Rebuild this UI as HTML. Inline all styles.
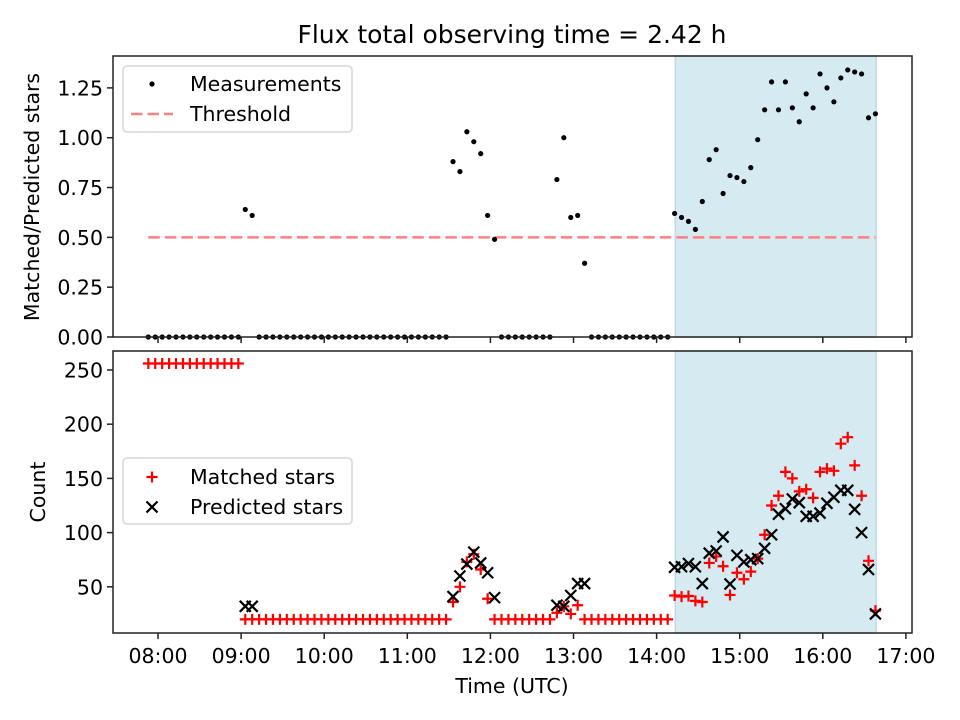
<!DOCTYPE html>
<html><head><meta charset="utf-8"><style>
html,body{margin:0;padding:0;background:#fff;}
svg{display:block;font-family:"DejaVu Sans","Liberation Sans",sans-serif;}
</style></head><body>
<svg id="chart" width="960" height="720" viewBox="0 0 960 720"></svg>
<script>
// times: minutes after midnight (UTC), one sample every ~5 minutes
const times = [473,478,483,488,493,498,503,508,513,518,523,528,533,538,543,548,553,558,563,568,573,578,583,588,593,598,603,608,613,618,623,628,633,638,643,648,653,658,663,668,673,678,683,688,693,698,703,708,713,718,723,728,733,738,743,748,753,758,763,768,773,778,783,788,793,798,803,808,813,818,823,828,833,838,843,848,853,858,863,868,873,878,883,888,893,898,903,908,913,918,923,928,933,938,943,948,953,958,963,968,973,978,983,988,993,998];
const ratio = [0,0,0,0,0,0,0,0,0,0,0,0,0,0,0.64,0.61,0,0,0,0,0,0,0,0,0,0,0,0,0,0,0,0,0,0,0,0,0,0,0,0,0,0,0,0,0.88,0.83,1.03,0.98,0.92,0.61,0.49,0,0,0,0,0,0,0,0,0.79,1.00,0.60,0.61,0.37,0,0,0,0,0,0,0,0,0,0,0,0,0.62,0.60,0.58,0.54,0.68,0.89,0.94,0.72,0.81,0.80,0.78,0.85,0.99,1.14,1.28,1.14,1.28,1.15,1.08,1.22,1.15,1.32,1.25,1.18,1.30,1.34,1.33,1.32,1.10,1.12];
const matched = [256,256,256,256,256,256,256,256,256,256,256,256,256,256,20,20,20,20,20,20,20,20,20,20,20,20,20,20,20,20,20,20,20,20,20,20,20,20,20,20,20,20,20,20,36,50,73,80,66,39,20,20,20,20,20,20,20,20,20,26,32,25,33,20,20,20,20,20,20,20,20,20,20,20,20,20,42,41,41.5,37,36,72,78,69,42.5,63,57,64,76,98,125,134,156,150,138,140,132,156,159,157,182,188,162,134,74,28];
const predicted = [null,null,null,null,null,null,null,null,null,null,null,null,null,null,32,32,null,null,null,null,null,null,null,null,null,null,null,null,null,null,null,null,null,null,null,null,null,null,null,null,null,null,null,null,41,60,71,82,72,63,40,null,null,null,null,null,null,null,null,33,32,42,53,53,null,null,null,null,null,null,null,null,null,null,null,null,68,68.5,71.5,68.5,53,81,83,96,52.6,79,73,75,76,85.5,98,117,122,131,127.6,115,115,118,127,132.6,139,139,121.5,100,66,25];
const threshold = [0.5];
const ratioTicks = [0, 0.25, 0.5, 0.75, 1.0, 1.25];
const ratioTickLabels = ["0.00","0.25","0.50","0.75","1.00","1.25"];
const countTicks = [50, 100, 150, 200, 250];
const timeTicks = [480,540,600,660,720,780,840,900,960,1020];
const timeTickLabels = ["08:00","09:00","10:00","11:00","12:00","13:00","14:00","15:00","16:00","17:00"];
const shadeStart = [853.5];
const shadeEnd = [998.5];

const NS = "http://www.w3.org/2000/svg";
const svg = document.getElementById("chart");
function mk(tag, attrs, parent){ const e=document.createElementNS(NS,tag); for(const k in attrs) e.setAttribute(k,attrs[k]); (parent||svg).appendChild(e); return e; }

const L=113, R=912;
const T1=56, B1=337, T2=351, B2=633;
const xMin=447.5, xMax=1024.4;
const FS="20.5";
const x = t => L + (t - xMin) / (xMax - xMin) * (R - L);
const y1 = v => B1 - (v - 0) / (1.41 - 0) * (B1 - T1);
const y2 = v => B2 - (v - 7.4) / (267.5 - 7.4) * (B2 - T2);

let t = mk("text",{x:512,y:43,"text-anchor":"middle","font-size":"25",fill:"#000"});
t.textContent = "Flux total observing time = 2.42 h";



function panel(top,bottom,name){
  const r = mk("rect",{x:x(shadeStart[0]),y:top,width:x(shadeEnd[0])-x(shadeStart[0]),height:bottom-top,fill:"#d5eaf1",stroke:"#bcdbe6","stroke-width":1.5});
  
  
}
panel(T1,B1,'top');
panel(T2,B2,'bottom');

const th = mk("line",{x1:x(times[0]),x2:x(times[times.length-1]),y1:y1(threshold[0]),y2:y1(threshold[0]),stroke:"#ff7f7f","stroke-width":2.5,"stroke-dasharray":"11.5,5"});



const gm = mk("g",{});


times.forEach((tm,i)=>{
  const c = mk("circle",{cx:x(tm),cy:y1(ratio[i]),r:2.6,fill:"#000"},gm);
  
  
});

const gp = mk("g",{stroke:"#000","stroke-width":2.2});


const gmt = mk("g",{stroke:"#ff0000","stroke-width":2.2});


times.forEach((tm,i)=>{
  const cx=x(tm);
  const cy=y2(matched[i]);
  const p = mk("path",{d:`M${cx-5.5},${cy}H${cx+5.5}M${cx},${cy-5.5}V${cy+5.5}`},gmt);
  
  
  if(predicted[i]!==null){
    const py=y2(predicted[i]);
    const q = mk("path",{d:`M${cx-5.5},${py-5.5}L${cx+5.5},${py+5.5}M${cx-5.5},${py+5.5}L${cx+5.5},${py-5.5}`},gp);
    
    
  }
});
svg.appendChild(gmt); svg.appendChild(gp);

[[T1,B1,'top-axes-frame'],[T2,B2,'bottom-axes-frame']].forEach(([a,b,n])=>{
  const f = mk("rect",{x:L,y:a,width:R-L,height:b-a,fill:"none",stroke:"#222","stroke-width":1.5});
  
  
});

timeTicks.forEach((tm,i)=>{
  const xx=x(tm);
  const a = mk("line",{x1:xx,x2:xx,y1:B1,y2:B1+6,stroke:"#222","stroke-width":1.5});
  
  
  const b = mk("line",{x1:xx,x2:xx,y1:B2,y2:B2+6,stroke:"#222","stroke-width":1.5});
  
  
  const l = mk("text",{x:xx,y:B2+30,"text-anchor":"middle","font-size":FS,fill:"#000"});
  l.textContent=timeTickLabels[i];
  
  
});
ratioTicks.forEach((v,i)=>{
  const yy=y1(v);
  const a = mk("line",{x1:L-6,x2:L,y1:yy,y2:yy,stroke:"#222","stroke-width":1.5});
  
  
  const l = mk("text",{x:L-10,y:yy+7.5,"text-anchor":"end","font-size":FS,fill:"#000"});
  l.textContent=ratioTickLabels[i];
  
  
});
countTicks.forEach(v=>{
  const yy=y2(v);
  const a = mk("line",{x1:L-6,x2:L,y1:yy,y2:yy,stroke:"#222","stroke-width":1.5});
  
  
  const l = mk("text",{x:L-10,y:yy+7.5,"text-anchor":"end","font-size":FS,fill:"#000"});
  l.textContent=String(v);
  
  
});

let yl = mk("text",{x:0,y:0,"text-anchor":"middle","font-size":FS,fill:"#000",transform:"translate(39,197) rotate(-90)"});
yl.textContent="Matched/Predicted stars";


let yl2 = mk("text",{x:0,y:0,"text-anchor":"middle","font-size":FS,fill:"#000",transform:"translate(45,492) rotate(-90)"});
yl2.textContent="Count";


let xl = mk("text",{x:512,y:693,"text-anchor":"middle","font-size":FS,fill:"#000"});
xl.textContent="Time (UTC)";



function legendBox(y0,h,name){
  const r = mk("rect",{x:123,y:y0,width:229,height:h,rx:4,fill:"#fff","fill-opacity":0.8,stroke:"#d6d6d6","stroke-width":1.5});
  
  
}
legendBox(66,66,'top-legend');
let ld = mk("circle",{cx:152,cy:84,r:2.6,fill:"#000"});


let lt1 = mk("text",{x:190,y:91,"font-size":FS,fill:"#000"}); lt1.textContent="Measurements";


let ll = mk("line",{x1:131,x2:173,y1:114,y2:114,stroke:"#ff7f7f","stroke-width":2.5,"stroke-dasharray":"11.5,5"});


let lt2 = mk("text",{x:190,y:121,"font-size":FS,fill:"#000"}); lt2.textContent="Threshold";



legendBox(458,66,'bottom-legend');
let lp = mk("path",{d:"M146.5,477H157.5M152,471.5V482.5",stroke:"#ff0000","stroke-width":2.2});


let lt3 = mk("text",{x:190,y:484,"font-size":FS,fill:"#000"}); lt3.textContent="Matched stars";


let lx = mk("path",{d:"M146.5,501.5L157.5,512.5M146.5,512.5L157.5,501.5",stroke:"#000","stroke-width":2.2});


let lt4 = mk("text",{x:190,y:514,"font-size":FS,fill:"#000"}); lt4.textContent="Predicted stars";


</script>
</body></html>
